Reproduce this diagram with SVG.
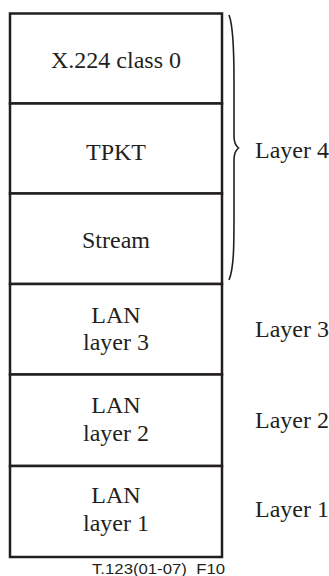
<svg xmlns="http://www.w3.org/2000/svg" width="329" height="576" viewBox="0 0 329 576">
<style>
.box{fill:#fff;stroke:#231f20;stroke-width:2.5}
.t{font-family:"Liberation Serif","Times New Roman",serif;font-size:24px;fill:#231f20;text-anchor:middle}
.l{font-family:"Liberation Serif","Times New Roman",serif;font-size:24px;fill:#231f20}
.f{font-family:"Liberation Sans",Arial,sans-serif;font-size:15px;fill:#231f20}
</style>
<rect x="0" y="0" width="329" height="576" fill="#fff"/>
<g id="x224"><rect class="box" x="10" y="13.5" width="212" height="90"/><text class="t" x="116" y="68">X.224 class 0</text></g>
<g id="tpkt"><rect class="box" x="10" y="103.5" width="212" height="90"/><text class="t" x="116" y="160">TPKT</text></g>
<g id="stream"><rect class="box" x="10" y="193.5" width="212" height="90.5"/><text class="t" x="116" y="248">Stream</text></g>
<g id="lan3"><rect class="box" x="10" y="284" width="212" height="90.5"/><text class="t" x="116" y="323">LAN</text><text class="t" x="116" y="350">layer 3</text></g>
<g id="lan2"><rect class="box" x="10" y="374.5" width="212" height="91.5"/><text class="t" x="116" y="413">LAN</text><text class="t" x="116" y="441">layer 2</text></g>
<g id="lan1"><rect class="box" x="10" y="466" width="212" height="91"/><text class="t" x="116" y="503">LAN</text><text class="t" x="116" y="531">layer 1</text></g>
<g id="connectors">
<path d="M229,15 C233,25 234,50 234,80 L234,136 C234,142 236,146 238.5,148 C236,150 234,154 234,160 L234,215 C234,245 234,268 229,280" fill="none" stroke="#231f20" stroke-width="1.6"/>
</g>
<g id="labels">
<text class="l" x="255" y="158">Layer 4</text>
<text class="l" x="255" y="337">Layer 3</text>
<text class="l" x="255" y="428">Layer 2</text>
<text class="l" x="255" y="517">Layer 1</text>
</g>
<text class="f" x="92" y="574" textLength="133" lengthAdjust="spacingAndGlyphs" xml:space="preserve">T.123(01-07)  F10</text>
</svg>
